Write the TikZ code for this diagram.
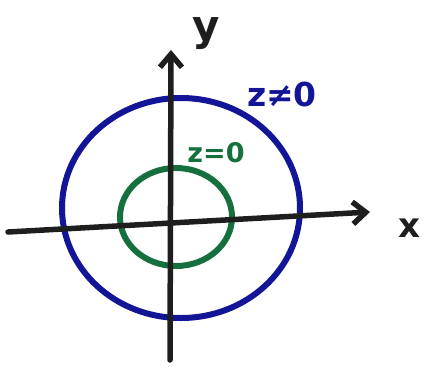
\documentclass[tikz,border=0pt]{standalone}
\usepackage{fontspec}
\setmainfont{DejaVu Sans}
\usetikzlibrary{arrows.meta}
\definecolor{penblue}{RGB}{18,22,150}
\definecolor{pengreen}{RGB}{22,112,62}
\definecolor{penblack}{RGB}{30,30,30}
\tikzset{
  axis/.style={draw=penblack, line width=5.5pt, line cap=round, line join=round,
    -{Straight Barb[length=13pt,width=22pt,line width=5.5pt]}},
  lbl/.style={inner sep=0pt, font=\bfseries},
}
\begin{document}
\begin{tikzpicture}[x=1pt,y=-1pt]
\useasboundingbox (0,0) rectangle (433,367);
\coordinate (xs) at (8,232);
\coordinate (xe) at (370,212);
\coordinate (ys) at (170,360);
\coordinate (ye) at (171,50);
\draw[penblue, line width=6pt] (181,208) ellipse [x radius=119, y radius=110];
\draw[pengreen, line width=6pt] (176,217) ellipse [x radius=56, y radius=49];
\draw[axis] (xs) -- (xe);
\draw[axis] (ys) -- (ye);
\node[lbl, text=penblack, font=\bfseries\fontsize{42}{42}\selectfont] (ylab) at (206,34) {y};
\node[lbl, text=penblack, font=\bfseries\fontsize{34}{34}\selectfont] (xlab) at (409,228) {x};
\node[lbl, text=penblue, font=\bfseries\fontsize{33}{33}\selectfont] (zne) at (282,94) {z≠0};
\node[lbl, text=pengreen, font=\bfseries\fontsize{27}{27}\selectfont] (zeq) at (216,153) {z=0};
\end{tikzpicture}
\end{document}
